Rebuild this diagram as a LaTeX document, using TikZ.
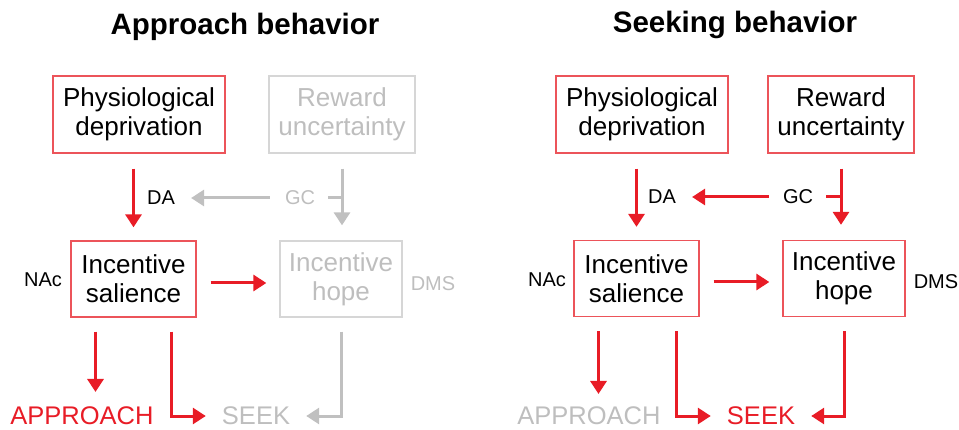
\documentclass[tikz,border=0pt]{standalone}
\usepackage{fontspec}
\setmainfont{Liberation Sans}
\usetikzlibrary{arrows.meta}
\definecolor{cred}{RGB}{232,28,38}
\definecolor{cboxred}{RGB}{236,84,90}
\definecolor{cgline}{RGB}{192,192,192}
\definecolor{cgtext}{RGB}{190,190,190}
\definecolor{cgbox}{RGB}{214,214,214}
\tikzset{
  bx/.style={draw=cboxred, line width=1.3pt, inner sep=0pt, align=center,
    font=\fontsize{26}{29}\selectfont, text=black},
  gbx/.style={bx, draw=cgbox, text=cgtext},
  lbl/.style={inner sep=0pt, font=\fontsize{20}{22}\selectfont},
  outl/.style={inner sep=0pt, font=\fontsize{25.5}{28}\selectfont},
  ttl/.style={inner sep=0pt, font=\fontsize{29.5}{32}\selectfont\bfseries},
  rarr/.style={draw=cred, line width=3pt, -{Triangle[length=13pt,width=16pt]}},
  garr/.style={draw=cgline, line width=3pt, -{Triangle[length=13pt,width=16pt]}},
  rline/.style={draw=cred, line width=3pt},
  gline/.style={draw=cgline, line width=3pt},
}
\begin{document}
\begin{tikzpicture}[x=1pt,y=-1pt]
\useasboundingbox (0,0) rectangle (959,430);
% ---------- left panel ----------
\node[ttl] (t1) at (245,27) {Approach behavior};
\node[bx, minimum width=172pt, minimum height=77pt] (p1) at (139,114.5) {Physiological\\deprivation};
\node[gbx, minimum width=146pt, minimum height=77pt] (r1) at (342,114.5) {Reward\\uncertainty};
\node[bx, minimum width=125pt, minimum height=76pt] (s1) at (133.5,279) {Incentive\\salience};
\node[gbx, minimum width=122pt, minimum height=76pt] (h1) at (341,279) {Incentive\\hope};
\node[lbl] (da1) at (161,198) {DA};
\node[lbl, text=cgtext] (gc1) at (300,198) {GC};
\node[lbl] (nac1) at (43,280) {NAc};
\node[lbl, text=cgtext] (dms1) at (433,284) {DMS};
\node[outl, text=cred] (ap1) at (82,416) {APPROACH};
\node[outl, text=cgtext] (sk1) at (256,416) {SEEK};
\draw[rarr, shorten <=15pt, shorten >=13pt] (s1.north |- p1.south) -- (s1.north);
\draw[garr, shorten <=15pt, shorten >=16pt] (gc1.west) -- (da1.east);
\draw[gline, shorten <=13pt] (gc1.east) -- (gc1 -| r1.south);
\draw[garr, shorten <=15pt, shorten >=15pt] (r1.south) -- (r1.south |- h1.north);
\draw[rarr, shorten <=14pt, shorten >=13pt] (s1.east |- 0,283) -- (h1.west |- 0,283);
\draw[rarr, shorten <=14pt] ([xshift=-38pt]s1.south) -- ([xshift=-38pt]s1.south |- 0,392);
\draw[rarr, shorten <=14pt, shorten >=16pt] ([xshift=38pt]s1.south) |- (sk1.west);
\draw[garr, shorten <=14pt, shorten >=16pt] (h1.south) |- (sk1.east);
% ---------- right panel ----------
\node[ttl] (t2) at (735,25) {Seeking behavior};
\node[bx, minimum width=172pt, minimum height=77pt] (p2) at (642,114.5) {Physiological\\deprivation};
\node[bx, minimum width=146pt, minimum height=77pt] (r2) at (841,114.5) {Reward\\uncertainty};
\node[bx, minimum width=125pt, minimum height=76pt] (s2) at (636.5,278.5) {Incentive\\salience};
\node[bx, minimum width=122pt, minimum height=76pt] (h2) at (844,278.5) {Incentive\\hope};
\node[lbl] (da2) at (662,197) {DA};
\node[lbl] (gc2) at (798,197) {GC};
\node[lbl] (nac2) at (547,280) {NAc};
\node[lbl] (dms2) at (936,282) {DMS};
\node[outl, text=cgtext] (ap2) at (589,416) {APPROACH};
\node[outl, text=cred] (sk2) at (761,416) {SEEK};
\draw[rarr, shorten <=15pt, shorten >=13pt] (s2.north |- p2.south) -- (s2.north);
\draw[rarr, shorten <=14pt, shorten >=16pt] (gc2.west) -- (da2.east);
\draw[rline, shorten <=13pt] (gc2.east) -- (gc2 -| r2.south);
\draw[rarr, shorten <=15pt, shorten >=15pt] (r2.south) -- (r2.south |- h2.north);
\draw[rarr, shorten <=14pt, shorten >=13pt] (s2.east |- 0,282) -- (h2.west |- 0,282);
\draw[rarr, shorten <=14pt] ([xshift=-38pt]s2.south) -- ([xshift=-38pt]s2.south |- 0,394);
\draw[rarr, shorten <=14pt, shorten >=16pt] ([xshift=40pt]s2.south) |- (sk2.west);
\draw[rarr, shorten <=14pt, shorten >=16pt] (h2.south) |- (sk2.east);
\end{tikzpicture}
\end{document}
